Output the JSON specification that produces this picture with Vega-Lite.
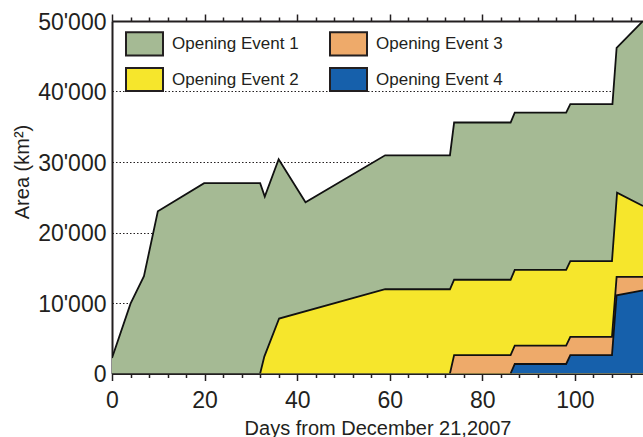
{
  "$schema": "https://vega.github.io/schema/vega-lite/v6.json",
  "width": 531,
  "height": 352.5,
  "autosize": {"type": "none"},
  "padding": {"left": 112, "top": 21, "right": 0, "bottom": 63.5},
  "background": "white",
  "config": {
    "view": {"stroke": null},
    "font": "Liberation Sans",
    "axis": {
      "labelFont": "Liberation Sans",
      "titleFont": "Liberation Sans",
      "labelColor": "#231F20",
      "titleColor": "#231F20",
      "domainColor": "#231F20",
      "tickColor": "#231F20",
      "domainWidth": 2,
      "tickWidth": 1.5,
      "labelFlush": false,
      "labelOverlap": false,
      "titleFontWeight": "normal"
    },
    "legend": {
      "orient": "none",
      "legendX": 13,
      "legendY": 3,
      "columns": 2,
      "symbolType": "M-1,-0.627H1V0.627H-1Z",
      "symbolSize": 1369,
      "symbolStrokeColor": "#231F20",
      "symbolStrokeWidth": 2,
      "symbolOpacity": 1,
      "labelFont": "Liberation Sans",
      "labelFontSize": 17,
      "labelColor": "#231F20",
      "labelOffset": 8,
      "labelLimit": 300,
      "rowPadding": -1.5,
      "columnPadding": 27
    }
  },
  "datasets": {
    "e1": [
      {"event": "Opening Event 1", "day": 0, "area": 2200},
      {"event": "Opening Event 1", "day": 4, "area": 9900},
      {"event": "Opening Event 1", "day": 6.9, "area": 13800},
      {"event": "Opening Event 1", "day": 9.9, "area": 23000},
      {"event": "Opening Event 1", "day": 19.9, "area": 27000},
      {"event": "Opening Event 1", "day": 32, "area": 27000},
      {"event": "Opening Event 1", "day": 33, "area": 25100},
      {"event": "Opening Event 1", "day": 36, "area": 30400},
      {"event": "Opening Event 1", "day": 41.8, "area": 24300},
      {"event": "Opening Event 1", "day": 59, "area": 30950},
      {"event": "Opening Event 1", "day": 73, "area": 30950},
      {"event": "Opening Event 1", "day": 73.9, "area": 35600},
      {"event": "Opening Event 1", "day": 86.1, "area": 35600},
      {"event": "Opening Event 1", "day": 87, "area": 37000},
      {"event": "Opening Event 1", "day": 98.1, "area": 37000},
      {"event": "Opening Event 1", "day": 99, "area": 38200},
      {"event": "Opening Event 1", "day": 108.1, "area": 38200},
      {"event": "Opening Event 1", "day": 109, "area": 46200},
      {"event": "Opening Event 1", "day": 114.7, "area": 50000}
    ],
    "e2": [
      {"event": "Opening Event 2", "day": 32, "area": 0},
      {"event": "Opening Event 2", "day": 32.9, "area": 2400},
      {"event": "Opening Event 2", "day": 36.1, "area": 7800},
      {"event": "Opening Event 2", "day": 59, "area": 11950},
      {"event": "Opening Event 2", "day": 73, "area": 11950},
      {"event": "Opening Event 2", "day": 73.9, "area": 13300},
      {"event": "Opening Event 2", "day": 86.1, "area": 13300},
      {"event": "Opening Event 2", "day": 87, "area": 14700},
      {"event": "Opening Event 2", "day": 98.1, "area": 14700},
      {"event": "Opening Event 2", "day": 99, "area": 15950},
      {"event": "Opening Event 2", "day": 108, "area": 15950},
      {"event": "Opening Event 2", "day": 109.1, "area": 25650},
      {"event": "Opening Event 2", "day": 114.7, "area": 23750}
    ],
    "e3": [
      {"event": "Opening Event 3", "day": 73, "area": 0},
      {"event": "Opening Event 3", "day": 73.9, "area": 2600},
      {"event": "Opening Event 3", "day": 86.1, "area": 2600},
      {"event": "Opening Event 3", "day": 87, "area": 3950},
      {"event": "Opening Event 3", "day": 98.1, "area": 3950},
      {"event": "Opening Event 3", "day": 99, "area": 5200},
      {"event": "Opening Event 3", "day": 108, "area": 5200},
      {"event": "Opening Event 3", "day": 109, "area": 13700},
      {"event": "Opening Event 3", "day": 114.7, "area": 13700}
    ],
    "e4": [
      {"event": "Opening Event 4", "day": 86.1, "area": 0},
      {"event": "Opening Event 4", "day": 87, "area": 1350},
      {"event": "Opening Event 4", "day": 98.1, "area": 1350},
      {"event": "Opening Event 4", "day": 99, "area": 2600},
      {"event": "Opening Event 4", "day": 108, "area": 2600},
      {"event": "Opening Event 4", "day": 109, "area": 11100},
      {"event": "Opening Event 4", "day": 114.7, "area": 11800}
    ]
  },
  "layer": [
    {
      "data": {"name": "e1"},
      "mark": {"type": "area", "opacity": 1, "clip": true},
      "encoding": {
        "x": {
          "field": "day",
          "type": "quantitative",
          "scale": {"domain": [0, 114.7], "nice": false, "zero": false},
          "axis": {
            "orient": "top",
            "values": [0, 4, 8, 12, 16, 20, 24, 28, 32, 36, 40, 44, 48, 52, 56, 60, 64, 68, 72, 76, 80, 84, 88, 92, 96, 100, 104, 108, 112],
            "labels": false,
            "grid": false,
            "title": null,
            "tickSize": {"condition": {"test": "datum.value % 20 === 0", "value": 7}, "value": 4}
          }
        },
        "y": {
          "field": "area",
          "type": "quantitative",
          "stack": null,
          "scale": {"domain": [0, 50000], "nice": false},
          "axis": {
            "values": [0, 10000, 20000, 30000, 40000, 50000],
            "labelExpr": "replace(format(datum.value, ','), ',', \"'\")",
            "labelFontSize": 23,
            "labelPadding": 6,
            "labelOffset": 1,
            "ticks": false,
            "grid": true,
            "gridColor": "#231F20",
            "gridDash": [1.5, 2],
            "gridWidth": 1.2,
            "title": "Area (km²)",
            "titleFontSize": 20,
            "titleAngle": -90,
            "titleAlign": "center",
            "titleBaseline": "alphabetic",
            "titleX": -83.5,
            "titleY": 150.5
          }
        },
        "color": {
          "field": "event",
          "type": "nominal",
          "title": null,
          "scale": {
            "domain": ["Opening Event 1", "Opening Event 2", "Opening Event 3", "Opening Event 4"],
            "range": ["#A5BA94", "#F6E62C", "#EEAA6A", "#1660AB"]
          }
        }
      }
    },
    {
      "encoding": {
        "x": {
          "field": "day",
          "type": "quantitative",
          "scale": {"domain": [0, 114.7], "nice": false, "zero": false},
          "axis": {
            "orient": "bottom",
            "values": [0, 4, 8, 12, 16, 20, 24, 28, 32, 36, 40, 44, 48, 52, 56, 60, 64, 68, 72, 76, 80, 84, 88, 92, 96, 100, 104, 108, 112],
            "labelExpr": "datum.value % 20 === 0 ? datum.label : ''",
            "labelFontSize": 23,
            "labelPadding": 9,
            "grid": false,
            "tickSize": {"condition": {"test": "datum.value % 20 === 0", "value": 7}, "value": 4},
            "title": "Days from December 21,2007",
            "titleFontSize": 20,
            "titleBaseline": "alphabetic",
            "titleY": 60.5
          }
        },
        "y": {
          "field": "area",
          "type": "quantitative",
          "stack": null,
          "scale": {"domain": [0, 50000], "nice": false}
        }
      },
      "layer": [
        {
          "data": {"name": "e1"},
          "mark": {"type": "line", "color": "#111111", "strokeWidth": 1.8, "clip": true}
        },
        {
          "data": {"name": "e2"},
          "mark": {"type": "area", "opacity": 1, "clip": true},
          "encoding": {"color": {"field": "event", "type": "nominal", "title": null}}
        },
        {
          "data": {"name": "e2"},
          "mark": {"type": "line", "color": "#111111", "strokeWidth": 1.8, "clip": true}
        },
        {
          "data": {"name": "e3"},
          "mark": {"type": "area", "opacity": 1, "clip": true},
          "encoding": {"color": {"field": "event", "type": "nominal", "title": null}}
        },
        {
          "data": {"name": "e3"},
          "mark": {"type": "line", "color": "#111111", "strokeWidth": 1.8, "clip": true}
        },
        {
          "data": {"name": "e4"},
          "mark": {"type": "area", "opacity": 1, "clip": true},
          "encoding": {"color": {"field": "event", "type": "nominal", "title": null}}
        },
        {
          "data": {"name": "e4"},
          "mark": {"type": "line", "color": "#111111", "strokeWidth": 1.8, "clip": true}
        }
      ]
    }
  ],
  "resolve": {"scale": {"x": "independent"}}
}
